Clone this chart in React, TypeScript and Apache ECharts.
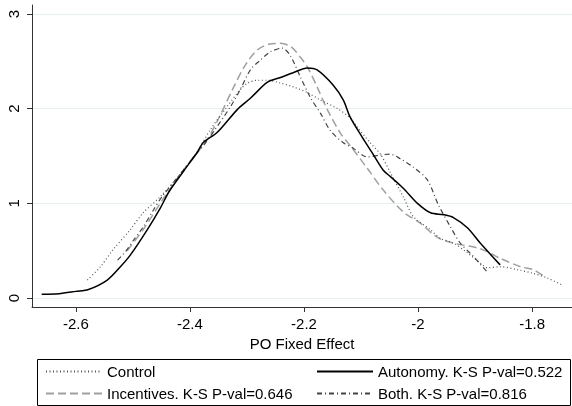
import React, { useEffect, useRef } from "react";
import * as echarts from "echarts";

const xTicks = [-2.6, -2.4, -2.2, -2, -1.8];
const yTicks = [0, 1, 2, 3];

const control: [number, number][] = [
  [-2.58, 0.19], [-2.557, 0.33], [-2.535, 0.51], [-2.505, 0.72], [-2.482, 0.9], [-2.452, 1.07],
  [-2.42, 1.29], [-2.387, 1.55], [-2.364, 1.78], [-2.335, 2.02], [-2.312, 2.2], [-2.299, 2.27],
  [-2.282, 2.3], [-2.264, 2.3], [-2.241, 2.27], [-2.219, 2.23], [-2.194, 2.17], [-2.171, 2.09],
  [-2.141, 2.0], [-2.119, 1.9], [-2.107, 1.81], [-2.084, 1.64], [-2.066, 1.52], [-2.049, 1.33],
  [-2.026, 1.07], [-2.008, 0.86], [-1.978, 0.72], [-1.961, 0.63], [-1.938, 0.58], [-1.914, 0.48],
  [-1.891, 0.37], [-1.878, 0.32], [-1.856, 0.33], [-1.826, 0.3], [-1.798, 0.26], [-1.773, 0.21],
  [-1.745, 0.13],
];

const incentives: [number, number][] = [
  [-2.51, 0.5], [-2.48, 0.74], [-2.45, 1.02], [-2.42, 1.28], [-2.394, 1.49], [-2.37, 1.67],
  [-2.347, 1.93], [-2.324, 2.22], [-2.303, 2.46], [-2.282, 2.62], [-2.262, 2.68], [-2.241, 2.69],
  [-2.222, 2.65], [-2.206, 2.54], [-2.194, 2.44], [-2.177, 2.23], [-2.159, 1.99], [-2.136, 1.74],
  [-2.119, 1.61], [-2.089, 1.37], [-2.061, 1.14], [-2.026, 0.91], [-1.996, 0.79], [-1.966, 0.64],
  [-1.938, 0.58], [-1.891, 0.52], [-1.856, 0.42], [-1.82, 0.33], [-1.798, 0.3], [-1.777, 0.22],
];

const autonomy: [number, number][] = [
  [-2.66, 0.04], [-2.63, 0.045], [-2.6, 0.07], [-2.578, 0.09], [-2.545, 0.19], [-2.522, 0.33],
  [-2.505, 0.45], [-2.475, 0.72], [-2.452, 0.95], [-2.437, 1.12], [-2.41, 1.35], [-2.387, 1.54],
  [-2.377, 1.64], [-2.352, 1.75], [-2.317, 1.99], [-2.294, 2.11], [-2.264, 2.28], [-2.241, 2.33],
  [-2.219, 2.38], [-2.194, 2.43], [-2.177, 2.41], [-2.149, 2.25], [-2.131, 2.09], [-2.119, 1.91],
  [-2.098, 1.7], [-2.08, 1.53], [-2.061, 1.35], [-2.048, 1.28], [-2.026, 1.16], [-2.001, 1.0],
  [-1.978, 0.9], [-1.955, 0.88], [-1.938, 0.85], [-1.913, 0.74], [-1.891, 0.58], [-1.856, 0.35],
];

const both: [number, number][] = [
  [-2.527, 0.4], [-2.513, 0.49], [-2.499, 0.61], [-2.482, 0.75], [-2.464, 0.93], [-2.449, 1.07],
  [-2.425, 1.25], [-2.405, 1.4], [-2.388, 1.53], [-2.37, 1.66], [-2.329, 2.02], [-2.312, 2.2],
  [-2.294, 2.41], [-2.277, 2.51], [-2.259, 2.6], [-2.238, 2.64], [-2.224, 2.56], [-2.206, 2.33],
  [-2.189, 2.12], [-2.171, 1.95], [-2.154, 1.77], [-2.131, 1.64], [-2.113, 1.58], [-2.089, 1.49],
  [-2.066, 1.51], [-2.049, 1.52], [-2.031, 1.47], [-2.008, 1.38], [-1.984, 1.25], [-1.964, 0.98],
  [-1.943, 0.75], [-1.926, 0.58], [-1.903, 0.44], [-1.878, 0.27],
];

const names = [
  "Control",
  "Incentives. K-S P-val=0.646",
  "Autonomy. K-S P-val=0.522",
  "Both. K-S P-val=0.816",
];

const FONT = "'Liberation Sans', Arial, Helvetica, sans-serif";

export default function App() {
  const ref = useRef<HTMLDivElement>(null);
  useEffect(() => {
    document.body.style.margin = "0";
    const chart = echarts.init(ref.current!, null, { renderer: "svg" });
    const lineSeries = (name: string, data: [number, number][], style: any, z: number) => ({
      name,
      type: "line",
      data,
      smooth: 0.3,
      symbol: "none",
      z,
      lineStyle: style,
      itemStyle: { color: style.color },
    });
    const legendBase = {
      orient: "vertical",
      top: 364,
      height: 40,
      itemWidth: 56,
      itemHeight: 14,
      itemGap: 7,
      padding: 0,
      itemStyle: { opacity: 0 },
      textStyle: { fontSize: 15, color: "#000", fontFamily: FONT },
    };
    chart.setOption({
      animation: false,
      textStyle: { fontFamily: FONT },
      grid: { left: 32, right: 0, top: 5, bottom: 99, containLabel: false },
      xAxis: {
        type: "value",
        min: -2.677,
        max: -1.73,
        name: "PO Fixed Effect",
        nameLocation: "middle",
        nameGap: 28,
        nameTextStyle: { fontSize: 15, color: "#000", fontFamily: FONT },
        axisLine: { show: true, onZero: false, lineStyle: { color: "#333", width: 1 } },
        axisTick: { show: true, length: 5, lineStyle: { color: "#333" }, customValues: xTicks },
        axisLabel: {
          fontSize: 15,
          color: "#000",
          margin: 9,
          fontFamily: FONT,
          customValues: xTicks,
          formatter: (v: number) => String(Math.round(v * 10) / 10),
        },
        splitLine: { show: false },
      },
      yAxis: {
        type: "value",
        min: -0.095,
        max: 3.095,
        axisLine: { show: true, lineStyle: { color: "#333", width: 1 } },
        axisTick: { show: true, length: 5, lineStyle: { color: "#333" }, customValues: yTicks },
        axisLabel: {
          fontSize: 15,
          color: "#000",
          margin: 11,
          rotate: 90,
          fontFamily: FONT,
          customValues: yTicks,
          formatter: (v: number) => String(Math.round(v)),
        },
        splitLine: { show: true, lineStyle: { color: "#e6eef0", width: 1 } },
      },
      legend: [
        { ...legendBase, data: [names[0], names[1]], left: 45 },
        { ...legendBase, data: [names[2], names[3]], left: 316 },
      ],
      graphic: [
        {
          type: "rect",
          shape: { x: 37.5, y: 359.5, width: 533, height: 46 },
          style: { fill: "none", stroke: "#000", lineWidth: 1 },
          silent: true,
        },
      ],
      series: [
        lineSeries(names[0], control, { color: "#555", width: 1.2, type: [1, 2.5] }, 3),
        lineSeries(names[1], incentives, { color: "#a0a0a0", width: 1.5, type: [8, 4] }, 2),
        lineSeries(names[2], autonomy, { color: "#000", width: 1.5, type: "solid" }, 4),
        lineSeries(names[3], both, { color: "#444", width: 1.2, type: [5, 3, 1, 3] }, 3),
      ],
    });
    return () => chart.dispose();
  }, []);
  return <div ref={ref} style={{ position: "fixed", left: 0, top: 0, width: 572, height: 406 }} />;
}
